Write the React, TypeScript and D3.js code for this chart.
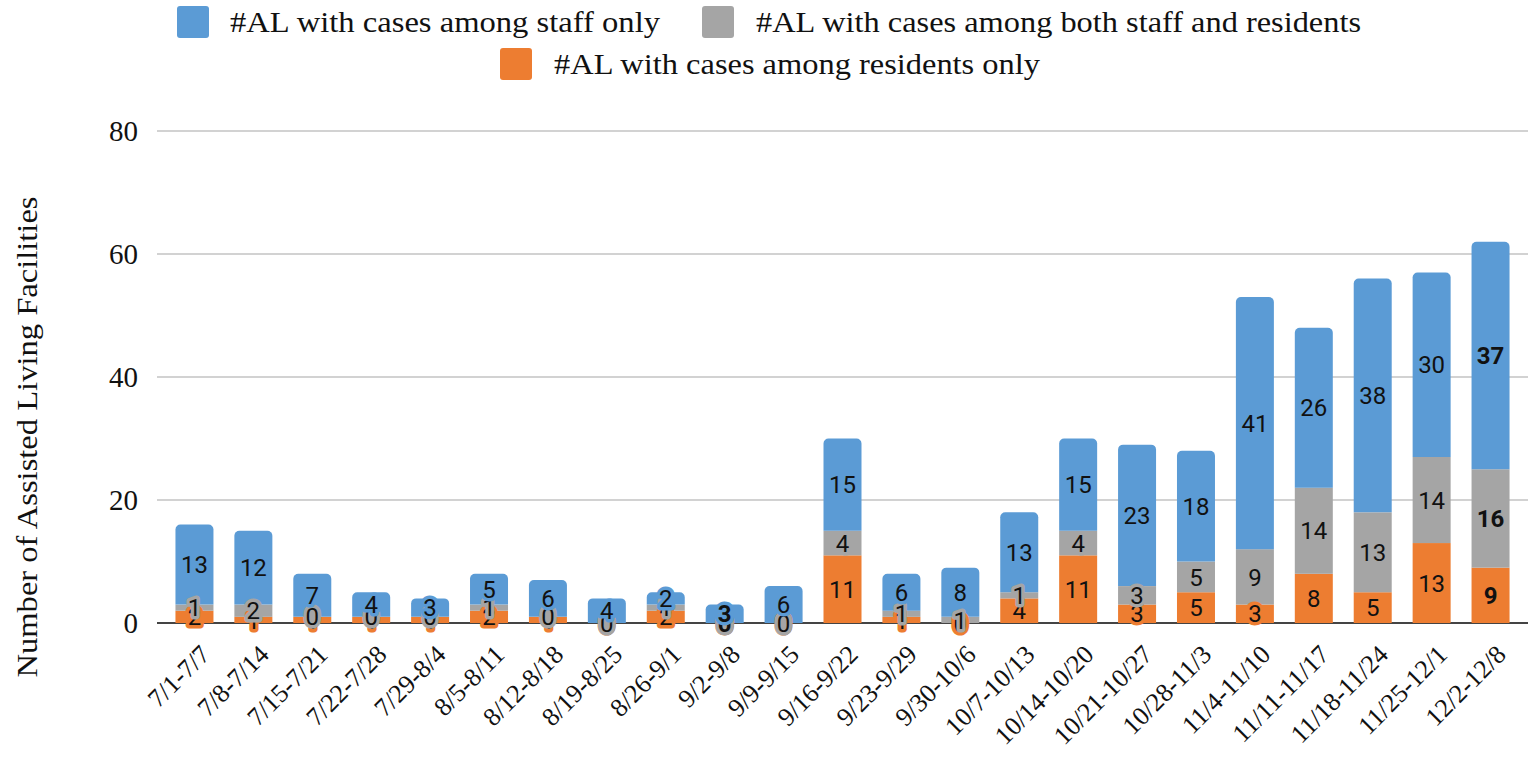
import React from "react";
import * as d3 from "d3";

// weekly counts of assisted living facilities with cases
const weeks = [
  "7/1-7/7", "7/8-7/14", "7/15-7/21", "7/22-7/28", "7/29-8/4", "8/5-8/11",
  "8/12-8/18", "8/19-8/25", "8/26-9/1", "9/2-9/8", "9/9-9/15", "9/16-9/22",
  "9/23-9/29", "9/30-10/6", "10/7-10/13", "10/14-10/20", "10/21-10/27",
  "10/28-11/3", "11/4-11/10", "11/11-11/17", "11/18-11/24", "11/25-12/1", "12/2-12/8",
];
const residentsOnly = [2, 1, 1, 1, 1, 2, 1, 0, 2, 0, 0, 11, 1, 0, 4, 11, 3, 5, 3, 8, 5, 13, 9];
const bothStaffResidents = [1, 2, 0, 0, 0, 1, 0, 0, 1, 0, 0, 4, 1, 1, 1, 4, 3, 5, 9, 14, 13, 14, 16];
const staffOnly = [13, 12, 7, 4, 3, 5, 6, 4, 2, 3, 6, 15, 6, 8, 13, 15, 23, 18, 41, 26, 38, 30, 37];
const yTicks = [0, 20, 40, 60, 80];
const boldWeeks = ["9/2-9/8", "12/2-12/8"];

const seriesInfo = [
  { key: "res", name: "#AL with cases among residents only", color: "#ED7D31" },
  { key: "both", name: "#AL with cases among both staff and residents", color: "#A5A5A5" },
  { key: "staff", name: "#AL with cases among staff only", color: "#5B9BD5" },
];

const W = 1528;
const H = 769;
const serif = "'Liberation Serif', 'Times New Roman', serif";

function topRounded(x: number, y: number, w: number, h: number, r: number) {
  const rr = Math.min(r, h, w / 2);
  const p = d3.path();
  p.moveTo(x, y + h);
  p.lineTo(x, y + rr);
  p.arcTo(x, y, x + rr, y, rr);
  p.lineTo(x + w - rr, y);
  p.arcTo(x + w, y, x + w, y + rr, rr);
  p.lineTo(x + w, y + h);
  p.closePath();
  return p.toString();
}

export default function App() {
  const rows = weeks.map((w, i) => ({
    week: w,
    res: residentsOnly[i],
    both: bothStaffResidents[i],
    staff: staffOnly[i],
  }));
  const stacked = d3.stack<any>().keys(seriesInfo.map((s) => s.key))(rows);

  const x = d3.scaleBand().domain(weeks).range([165, 1520]).paddingInner(0.355).paddingOuter(0.1775);
  const y = d3.scaleLinear().domain([0, 80]).range([623, 131]);
  const bw = x.bandwidth();

  return (
    <svg width={W} height={H} style={{ position: "absolute", left: 0, top: 0, background: "#fff" }}>
      {/* legend */}
      <g fontFamily={serif} fontSize={29} fill="#111">
        <rect x={177} y={6} width={32} height={32} rx={3} fill="#5B9BD5" />
        <text x={230} y={32} textLength={430} lengthAdjust="spacingAndGlyphs">{seriesInfo[2].name}</text>
        <rect x={702} y={6} width={32} height={32} rx={3} fill="#A5A5A5" />
        <text x={756} y={32} textLength={605} lengthAdjust="spacingAndGlyphs">{seriesInfo[1].name}</text>
        <rect x={500} y={48} width={32} height={32} rx={3} fill="#ED7D31" />
        <text x={554} y={74} textLength={486} lengthAdjust="spacingAndGlyphs">{seriesInfo[0].name}</text>
      </g>

      {/* gridlines */}
      {yTicks.map((t) => (
        <g key={t}>
          <line x1={157} x2={1528} y1={y(t)} y2={y(t)} stroke={t === 0 ? "#444" : "#d2d2d2"} strokeWidth={2} />
          <text x={138} y={y(t)} dy="0.35em" textAnchor="end" fontFamily={serif} fontSize={29} fill="#111">{t}</text>
        </g>
      ))}

      <text
        transform={`translate(37,437) rotate(-90)`}
        textAnchor="middle"
        fontFamily={serif}
        fontSize={30}
        fill="#111"
        textLength={481}
        lengthAdjust="spacingAndGlyphs"
      >
        Number of Assisted Living Facilities
      </text>

      {/* bars */}
      {stacked.map((layer, li) => (
        <g key={layer.key} fill={seriesInfo[li].color}>
          {layer.map((d: any, i: number) => {
            const x0 = x(weeks[i]) as number;
            const y0 = y(d[1]);
            const h = y(d[0]) - y(d[1]);
            if (h <= 0) return null;
            if (li === stacked.length - 1) {
              return <path key={i} d={topRounded(x0, y0, bw, h, 5)} />;
            }
            return <rect key={i} x={x0} y={y0} width={bw} height={h} />;
          })}
        </g>
      ))}

      {/* value labels with halo */}
      {stacked.map((layer, li) => (
        <g key={"l" + layer.key} fontFamily="Roboto, 'Noto Sans', sans-serif" fontSize={24} textAnchor="middle">
          {layer.map((d: any, i: number) => {
            const cx = (x(weeks[i]) as number) + bw / 2;
            const cy = y((d[0] + d[1]) / 2);
            const bold = boldWeeks.includes(weeks[i]);
            return (
              <text
                key={i}
                x={cx}
                y={cy}
                dy="0.36em"
                fill="#111"
                stroke={seriesInfo[li].color}
                strokeWidth={7}
                strokeLinejoin="round"
                paintOrder="stroke"
                fontWeight={bold ? 700 : 400}
              >
                {d[1] - d[0]}
              </text>
            );
          })}
        </g>
      ))}

      {/* x tick labels */}
      {weeks.map((w) => {
        const cx = (x(w) as number) + bw / 2 + 17;
        return (
          <text
            key={w}
            transform={`translate(${cx},656) rotate(-45)`}
            textAnchor="end"
            fontFamily={serif}
            fontSize={26}
            fill="#111"
          >
            {w}
          </text>
        );
      })}
    </svg>
  );
}
